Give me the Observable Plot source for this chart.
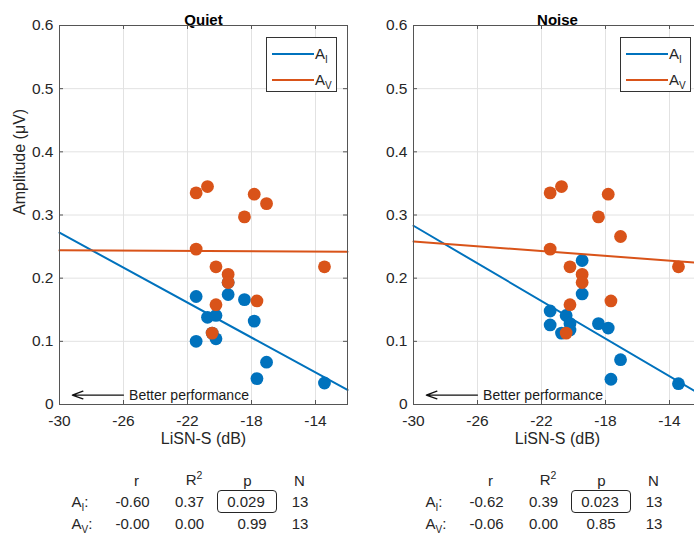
<!DOCTYPE html>
<html><head><meta charset="utf-8">
<script src="https://cdn.jsdelivr.net/npm/d3@7"></script>
<script src="https://cdn.jsdelivr.net/npm/@observablehq/plot@0.6"></script>
<style>
body{margin:0;background:#fff;}
#root{position:relative;width:694px;height:536px;overflow:hidden;background:#fff;font-family:"Liberation Sans",Arial,sans-serif;color:#262626;}
.panel{position:absolute;top:0;width:354px;height:460px;}
.t{position:absolute;white-space:nowrap;font-size:15px;line-height:1;transform:translate(-50%,-50%);}
.tl{position:absolute;white-space:nowrap;font-size:15px;line-height:1;transform:translate(0,-50%);}
.lg{position:absolute;border:1px solid #333;background:#fff;box-sizing:border-box;}
.lgline{position:absolute;height:2px;}
.sub{font-size:10px;position:relative;top:4px;}
.sup{font-size:10.5px;position:relative;top:-6px;}
.box{position:absolute;border:1.3px solid #262626;border-radius:4px;box-sizing:border-box;}
</style></head><body><div id="root"></div><script>
// ---- data ----
const lisnS   = [-21.46, -21.46, -20.75, -20.46, -20.22, -20.22, -19.46, -19.46, -18.44, -17.83, -17.66, -17.06, -13.44];
const quietAI = [0.171, 0.100, 0.138, 0.113, 0.141, 0.104, 0.174, 0.193, 0.166, 0.132, 0.041, 0.067, 0.034];
const quietAV = [0.335, 0.246, 0.345, 0.113, 0.218, 0.158, 0.206, 0.193, 0.297, 0.333, 0.164, 0.318, 0.218];
const noiseAI = [0.148, 0.126, 0.113, 0.141, 0.128, 0.118, 0.228, 0.175, 0.128, 0.121, 0.040, 0.071, 0.033];
const noiseAV = [0.335, 0.246, 0.345, 0.113, 0.218, 0.158, 0.206, 0.193, 0.297, 0.333, 0.164, 0.266, 0.218];
const fitX      = [-30, -12];
const quietFitAI = [0.272, 0.023];
const quietFitAV = [0.244, 0.242];
const noiseFitAI = [0.283, 0.015];
const noiseFitAV = [0.258, 0.224];
const xTicks = [-30, -26, -22, -18, -14];
const yTicks = [0, 0.1, 0.2, 0.3, 0.4, 0.5, 0.6];
const panelTitles = ["Quiet", "Noise"];
const seriesBase = ["A", "A"];
const seriesSub = ["I", "V"];
const statHeaders = ["r", "R", "p", "N"];
const quietStatsAI = ["-0.60", "0.37", "0.029", "13"];
const quietStatsAV = ["-0.00", "0.00", "0.99", "13"];
const noiseStatsAI = ["-0.62", "0.39", "0.023", "13"];
const noiseStatsAV = ["-0.06", "0.00", "0.85", "13"];
const arrowNote = [{x1: -26.0, x2: -29.2, y: 0.015, labelX: -25.65, label: "Better performance"}];
const xLabel = "LiSN-S (dB)";
const yLabel = "Amplitude (μV)";

const colAI = "#0072BD", colAV = "#D95319";
const root = document.getElementById("root");

function makePanel(title, ai, av, fitAI, fitAV, withYLabel) {
  const W = 354, H = 460, mL = 59, mR = 7, mT = 25, mB = 56;
  const pw = W - mL - mR, ph = H - mT - mB, tk = 4;
  const pts = ys => lisnS.map((x, i) => ({x, y: ys[i]}));
  const fit = ys => fitX.map((x, i) => ({x, y: ys[i]}));
  const marks = [
    Plot.gridX(xTicks, {stroke: "#e2e2e2", strokeOpacity: 1}),
    Plot.gridY(yTicks, {stroke: "#e2e2e2", strokeOpacity: 1}),
    Plot.tickX(xTicks, {x: d => d, insetTop: ph - tk, stroke: "#555"}),
    Plot.tickX(xTicks, {x: d => d, insetBottom: ph - tk, stroke: "#555"}),
    Plot.tickY(yTicks, {y: d => d, insetRight: pw - tk, stroke: "#555"}),
    Plot.tickY(yTicks, {y: d => d, insetLeft: pw - tk, stroke: "#555"}),
    Plot.axisX(xTicks, {tickSize: 0, tickPadding: 10, label: null, tickFormat: d => String(d), fill: "#262626", fontSize: 15.5}),
    Plot.axisY(yTicks, {tickSize: 0, tickPadding: 6, label: null, tickFormat: d => d === 0 ? "0" : d.toFixed(1), fill: "#262626", fontSize: 15.5}),
    Plot.text([xLabel], {frameAnchor: "bottom", dy: 39, fontSize: 16, fill: "#262626"}),
    Plot.text([title], {frameAnchor: "top", dy: -11, fontSize: 15, fontWeight: "bold", fill: "#000"}),
    Plot.arrow(arrowNote, {x1: "x1", x2: "x2", y1: "y", y2: "y", stroke: "#111", strokeWidth: 1.3, headLength: 13, headAngle: 40}),
    Plot.text(arrowNote, {x: "labelX", y: "y", text: "label", textAnchor: "start", fontSize: 14, fill: "#1a1a1a"}),
    Plot.dot(pts(ai), {x: "x", y: "y", r: 6.4, fill: colAI, stroke: "none"}),
    Plot.dot(pts(av), {x: "x", y: "y", r: 6.4, fill: colAV, stroke: "none"}),
    Plot.line(fit(fitAI), {x: "x", y: "y", stroke: colAI, strokeWidth: 2}),
    Plot.line(fit(fitAV), {x: "x", y: "y", stroke: colAV, strokeWidth: 2}),
    Plot.frame({stroke: "#555", strokeWidth: 1})
  ];
  if (withYLabel) marks.push(Plot.text([yLabel], {frameAnchor: "left", rotate: -90, dx: -40, fontSize: 16, fill: "#262626"}));
  return Plot.plot({
    width: W, height: H, marginLeft: mL, marginRight: mR, marginTop: mT, marginBottom: mB,
    style: {fontFamily: "'Liberation Sans', Arial, sans-serif", fontSize: "15.5px", background: "transparent", overflow: "visible"},
    x: {domain: [-30, -12]},
    y: {domain: [0, 0.6]},
    marks
  });
}

function addText(html, x, y, cls) {
  const d = document.createElement("div");
  d.className = cls || "t";
  d.innerHTML = html;
  d.style.left = x + "px";
  d.style.top = y + "px";
  root.appendChild(d);
  return d;
}

const panels = [
  {title: panelTitles[0], ai: quietAI, av: quietAV, fai: quietFitAI, fav: quietFitAV, sAI: quietStatsAI, sAV: quietStatsAV, off: 0, p2: 252},
  {title: panelTitles[1], ai: noiseAI, av: noiseAV, fai: noiseFitAI, fav: noiseFitAV, sAI: noiseStatsAI, sAV: noiseStatsAV, off: 354, p2: 247}
];

panels.forEach((p, k) => {
  const div = document.createElement("div");
  div.className = "panel";
  div.style.left = p.off + "px";
  div.appendChild(makePanel(p.title, p.ai, p.av, p.fai, p.fav, k === 0));
  root.appendChild(div);

  // legend
  const lg = document.createElement("div");
  lg.className = "lg";
  lg.style.left = (p.off + 265.5) + "px";
  lg.style.top = "36.5px";
  lg.style.width = "71px";
  lg.style.height = "55px";
  root.appendChild(lg);
  [colAI, colAV].forEach((c, i) => {
    const ln = document.createElement("div");
    ln.className = "lgline";
    ln.style.background = c;
    ln.style.left = "5.5px";
    ln.style.width = "42px";
    ln.style.top = (15 + 26 * i) + "px";
    lg.appendChild(ln);
    const tx = document.createElement("div");
    tx.className = "tl";
    tx.style.left = "48.5px";
    tx.style.top = (15 + 26 * i) + "px";
    tx.innerHTML = seriesBase[i] + '<span class="sub">' + seriesSub[i] + "</span>";
    lg.appendChild(tx);
  });

  // stats table
  const o = p.off;
  addText(statHeaders[0], o + 136.5, 479.5);
  addText(statHeaders[1] + '<span class="sup">2</span>', o + 194, 478.5);
  addText(statHeaders[2], o + 247.5, 479.5);
  addText(statHeaders[3], o + 299.5, 479.5);
  [p.sAI, p.sAV].forEach((row, i) => {
    const y = 501 + 22 * i;
    addText(seriesBase[i] + '<span class="sub">' + seriesSub[i] + "</span>:", o + 71.5, y, "tl");
    addText(row[0], o + 132.5, y);
    addText(row[1], o + 189.5, y);
    addText(row[2], i === 0 ? o + 246 : o + p.p2, y);
    addText(row[3], o + 300, y);
  });
  const bx = document.createElement("div");
  bx.className = "box";
  bx.style.left = (o + 216.5) + "px";
  bx.style.top = "489.5px";
  bx.style.width = "60px";
  bx.style.height = "23px";
  root.appendChild(bx);
});
</script></body></html>
